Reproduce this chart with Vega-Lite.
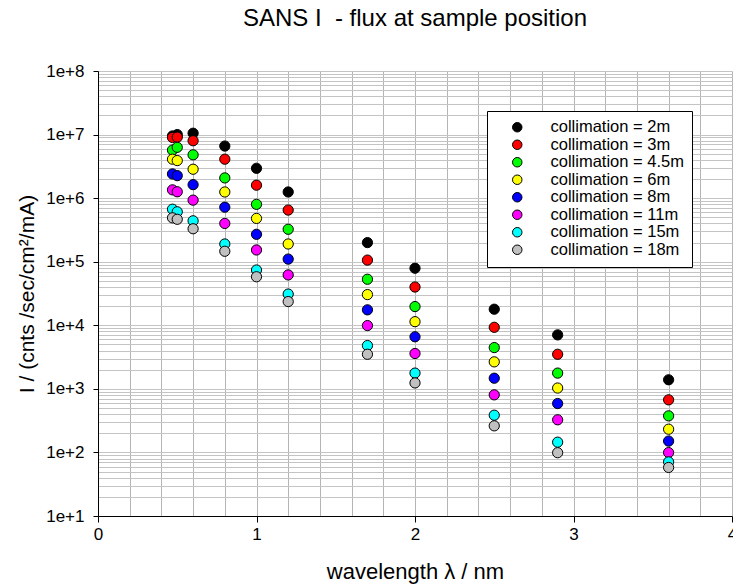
{
  "$schema": "https://vega.github.io/schema/vega-lite/v6.json",
  "autosize": {"type": "none"},
  "padding": {"left": 98, "top": 71, "right": 1, "bottom": 70},
  "width": 634,
  "height": 445,
  "background": "white",
  "title": {"text": "SANS I \u00a0- flux at sample position", "font": "Liberation Sans", "fontSize": 24, "fontWeight": "normal", "color": "black", "anchor": "middle", "baseline": "alphabetic", "frame": "group", "offset": 12},
  "config": {"view": {"stroke": null}},
  "data": {"values": [
    {"wl": 0.47, "flux": 9500000, "series": "collimation = 2m"},
    {"wl": 0.5, "flux": 10000000, "series": "collimation = 2m"},
    {"wl": 0.6, "flux": 10500000, "series": "collimation = 2m"},
    {"wl": 0.8, "flux": 6600000, "series": "collimation = 2m"},
    {"wl": 1.0, "flux": 2950000, "series": "collimation = 2m"},
    {"wl": 1.2, "flux": 1250000, "series": "collimation = 2m"},
    {"wl": 1.7, "flux": 200000, "series": "collimation = 2m"},
    {"wl": 2.0, "flux": 79000, "series": "collimation = 2m"},
    {"wl": 2.5, "flux": 17900, "series": "collimation = 2m"},
    {"wl": 2.9, "flux": 7060, "series": "collimation = 2m"},
    {"wl": 3.6, "flux": 1390, "series": "collimation = 2m"},
    {"wl": 0.47, "flux": 9000000, "series": "collimation = 3m"},
    {"wl": 0.5, "flux": 9100000, "series": "collimation = 3m"},
    {"wl": 0.6, "flux": 8000000, "series": "collimation = 3m"},
    {"wl": 0.8, "flux": 4100000, "series": "collimation = 3m"},
    {"wl": 1.0, "flux": 1600000, "series": "collimation = 3m"},
    {"wl": 1.2, "flux": 650000, "series": "collimation = 3m"},
    {"wl": 1.7, "flux": 106000, "series": "collimation = 3m"},
    {"wl": 2.0, "flux": 40000, "series": "collimation = 3m"},
    {"wl": 2.5, "flux": 9300, "series": "collimation = 3m"},
    {"wl": 2.9, "flux": 3500, "series": "collimation = 3m"},
    {"wl": 3.6, "flux": 672, "series": "collimation = 3m"},
    {"wl": 0.47, "flux": 5700000, "series": "collimation = 4.5m"},
    {"wl": 0.5, "flux": 6300000, "series": "collimation = 4.5m"},
    {"wl": 0.6, "flux": 4800000, "series": "collimation = 4.5m"},
    {"wl": 0.8, "flux": 2080000, "series": "collimation = 4.5m"},
    {"wl": 1.0, "flux": 800000, "series": "collimation = 4.5m"},
    {"wl": 1.2, "flux": 324000, "series": "collimation = 4.5m"},
    {"wl": 1.7, "flux": 53000, "series": "collimation = 4.5m"},
    {"wl": 2.0, "flux": 19700, "series": "collimation = 4.5m"},
    {"wl": 2.5, "flux": 4460, "series": "collimation = 4.5m"},
    {"wl": 2.9, "flux": 1770, "series": "collimation = 4.5m"},
    {"wl": 3.6, "flux": 376, "series": "collimation = 4.5m"},
    {"wl": 0.47, "flux": 4100000, "series": "collimation = 6m"},
    {"wl": 0.5, "flux": 3900000, "series": "collimation = 6m"},
    {"wl": 0.6, "flux": 2850000, "series": "collimation = 6m"},
    {"wl": 0.8, "flux": 1250000, "series": "collimation = 6m"},
    {"wl": 1.0, "flux": 480000, "series": "collimation = 6m"},
    {"wl": 1.2, "flux": 190000, "series": "collimation = 6m"},
    {"wl": 1.7, "flux": 30400, "series": "collimation = 6m"},
    {"wl": 2.0, "flux": 11400, "series": "collimation = 6m"},
    {"wl": 2.5, "flux": 2660, "series": "collimation = 6m"},
    {"wl": 2.9, "flux": 1030, "series": "collimation = 6m"},
    {"wl": 3.6, "flux": 232, "series": "collimation = 6m"},
    {"wl": 0.47, "flux": 2400000, "series": "collimation = 8m"},
    {"wl": 0.5, "flux": 2260000, "series": "collimation = 8m"},
    {"wl": 0.6, "flux": 1630000, "series": "collimation = 8m"},
    {"wl": 0.8, "flux": 720000, "series": "collimation = 8m"},
    {"wl": 1.0, "flux": 270000, "series": "collimation = 8m"},
    {"wl": 1.2, "flux": 110000, "series": "collimation = 8m"},
    {"wl": 1.7, "flux": 17500, "series": "collimation = 8m"},
    {"wl": 2.0, "flux": 6600, "series": "collimation = 8m"},
    {"wl": 2.5, "flux": 1470, "series": "collimation = 8m"},
    {"wl": 2.9, "flux": 588, "series": "collimation = 8m"},
    {"wl": 3.6, "flux": 151, "series": "collimation = 8m"},
    {"wl": 0.47, "flux": 1350000, "series": "collimation = 11m"},
    {"wl": 0.5, "flux": 1260000, "series": "collimation = 11m"},
    {"wl": 0.6, "flux": 930000, "series": "collimation = 11m"},
    {"wl": 0.8, "flux": 400000, "series": "collimation = 11m"},
    {"wl": 1.0, "flux": 153000, "series": "collimation = 11m"},
    {"wl": 1.2, "flux": 62000, "series": "collimation = 11m"},
    {"wl": 1.7, "flux": 9900, "series": "collimation = 11m"},
    {"wl": 2.0, "flux": 3600, "series": "collimation = 11m"},
    {"wl": 2.5, "flux": 805, "series": "collimation = 11m"},
    {"wl": 2.9, "flux": 326, "series": "collimation = 11m"},
    {"wl": 3.6, "flux": 99.5, "series": "collimation = 11m"},
    {"wl": 0.47, "flux": 670000, "series": "collimation = 15m"},
    {"wl": 0.5, "flux": 610000, "series": "collimation = 15m"},
    {"wl": 0.6, "flux": 440000, "series": "collimation = 15m"},
    {"wl": 0.8, "flux": 190000, "series": "collimation = 15m"},
    {"wl": 1.0, "flux": 74000, "series": "collimation = 15m"},
    {"wl": 1.2, "flux": 31000, "series": "collimation = 15m"},
    {"wl": 1.7, "flux": 4800, "series": "collimation = 15m"},
    {"wl": 2.0, "flux": 1770, "series": "collimation = 15m"},
    {"wl": 2.5, "flux": 385, "series": "collimation = 15m"},
    {"wl": 2.9, "flux": 145, "series": "collimation = 15m"},
    {"wl": 3.6, "flux": 71, "series": "collimation = 15m"},
    {"wl": 0.47, "flux": 490000, "series": "collimation = 18m"},
    {"wl": 0.5, "flux": 465000, "series": "collimation = 18m"},
    {"wl": 0.6, "flux": 330000, "series": "collimation = 18m"},
    {"wl": 0.8, "flux": 146000, "series": "collimation = 18m"},
    {"wl": 1.0, "flux": 58000, "series": "collimation = 18m"},
    {"wl": 1.2, "flux": 23600, "series": "collimation = 18m"},
    {"wl": 1.7, "flux": 3500, "series": "collimation = 18m"},
    {"wl": 2.0, "flux": 1240, "series": "collimation = 18m"},
    {"wl": 2.5, "flux": 262, "series": "collimation = 18m"},
    {"wl": 2.9, "flux": 99, "series": "collimation = 18m"},
    {"wl": 3.6, "flux": 58, "series": "collimation = 18m"}
  ]},
  "mark": {"type": "point", "shape": "circle", "filled": true, "size": 105, "stroke": "black", "strokeWidth": 1, "opacity": 1},
  "encoding": {
    "x": {
      "field": "wl", "type": "quantitative",
      "scale": {"domain": [0, 4], "nice": false, "zero": false},
      "axis": {
        "title": "wavelength λ / nm",
        "titleFont": "Liberation Sans", "titleFontSize": 22, "titleFontWeight": "normal", "titleColor": "black", "titlePadding": 19,
        "values": [0, 0.2, 0.4, 0.6, 0.8, 1, 1.2, 1.4, 1.6, 1.8, 2, 2.2, 2.4, 2.6, 2.8, 3, 3.2, 3.4, 3.6, 3.8, 4],
        "labelExpr": "abs(datum.value - round(datum.value)) < 0.000001 ? format(datum.value, 'd') : ''",
        "labelFont": "Liberation Sans", "labelFontSize": 17, "labelColor": "black", "labelPadding": 4, "labelFlush": false, "labelOverlap": false,
        "domainColor": "black", "domainWidth": 1,
        "tickSize": 6,
        "tickColor": {"condition": {"test": "abs(datum.value - round(datum.value)) < 0.000001", "value": "black"}, "value": "transparent"},
        "grid": true, "gridColor": "#b4b4b4", "gridWidth": 1
      }
    },
    "y": {
      "field": "flux", "type": "quantitative",
      "scale": {"type": "log", "domain": [10, 100000000], "nice": false},
      "axis": {
        "title": "I / (cnts /sec/cm²/mA)",
        "titleFont": "Liberation Sans", "titleFontSize": 21, "titleFontWeight": "normal", "titleColor": "black", "titlePadding": 8,
        "values": [10, 20, 30, 40, 50, 60, 70, 80, 90, 100, 200, 300, 400, 500, 600, 700, 800, 900, 1000, 2000, 3000, 4000, 5000, 6000, 7000, 8000, 9000, 10000, 20000, 30000, 40000, 50000, 60000, 70000, 80000, 90000, 100000, 200000, 300000, 400000, 500000, 600000, 700000, 800000, 900000, 1000000, 2000000, 3000000, 4000000, 5000000, 6000000, 7000000, 8000000, 9000000, 10000000, 20000000, 30000000, 40000000, 50000000, 60000000, 70000000, 80000000, 90000000, 100000000],
        "labelExpr": "abs(log(datum.value)/log(10) - round(log(datum.value)/log(10))) < 0.000001 ? '1e+' + round(log(datum.value)/log(10)) : ''",
        "labelFont": "Liberation Sans", "labelFontSize": 17, "labelColor": "black", "labelPadding": 9, "labelFlush": false, "labelOverlap": false,
        "domainColor": "black", "domainWidth": 1,
        "tickSize": 5,
        "tickColor": {"condition": {"test": "abs(log(datum.value)/log(10) - round(log(datum.value)/log(10))) < 0.000001", "value": "black"}, "value": "transparent"},
        "grid": true, "gridColor": "#c4c4c4", "gridWidth": 1
      }
    },
    "fill": {
      "field": "series", "type": "nominal",
      "scale": {
        "domain": ["collimation = 2m", "collimation = 3m", "collimation = 4.5m", "collimation = 6m", "collimation = 8m", "collimation = 11m", "collimation = 15m", "collimation = 18m"],
        "range": ["#000000", "#ff0000", "#00ff00", "#ffff00", "#0000ff", "#ff00ff", "#00ffff", "#c0c0c0"]
      },
      "legend": {
        "title": null, "orient": "none", "legendX": 389, "legendY": 40,
        "padding": 8, "strokeColor": "black", "fillColor": "white",
        "symbolType": "circle", "symbolSize": 90, "symbolStrokeColor": "black", "symbolStrokeWidth": 1, "symbolOffset": 14,
        "labelFont": "Liberation Sans", "labelFontSize": 16.5, "labelColor": "black", "labelOffset": 25, "labelLimit": 300,
        "rowPadding": 0.5
      }
    }
  }
}
